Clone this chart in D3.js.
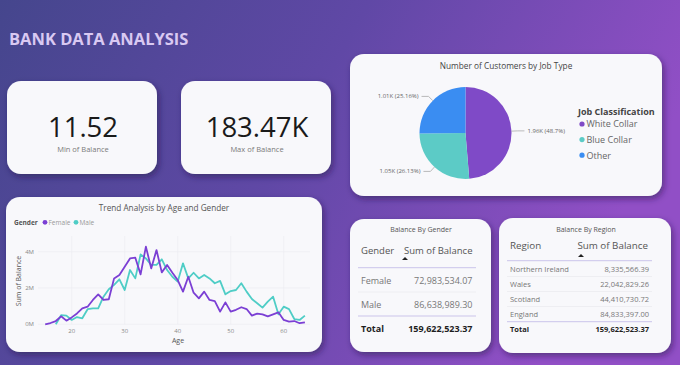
<!DOCTYPE html>
<html><head><meta charset="utf-8">
<script src="https://cdn.jsdelivr.net/npm/d3@7"></script>
<style>
html,body{margin:0;padding:0;overflow:hidden;background:#5a4aa0;}
svg{display:block;}
text{font-family:"Open Sans","Noto Sans",sans-serif;}
</style></head>
<body>
<svg id="c" width="680" height="365"></svg>
<script>
// ---------- DATA ----------
const kpiValues = ["11.52", "183.47K"];
const kpiLabels = ["Min of Balance", "Max of Balance"];

const jobTypes = ["White Collar", "Blue Collar", "Other"];
const jobPct = [48.7, 26.13, 25.16];
const jobCountLabels = ["1.96K", "1.05K", "1.01K"];

const femaleAges = d3.range(15, 65);
const femaleBalanceM = [0, 0.07, 0.18, 0.44, 0.2, 0.38, 0.6, 0.88, 0.97, 1.34, 1.65, 1.34, 1.38, 2.53, 2.72, 3.17, 3.63, 3.67, 2.75, 4.28, 3.08, 4.09, 2.86, 3.27, 2.84, 2.44, 1.8, 2.62, 1.74, 1.43, 1.8, 1.34, 1.28, 0.7, 1.21, 0.7, 0.8, 0.94, 0.84, 0.48, 0.59, 0.55, 0.44, 0.55, 0.66, 0.24, 0.15, 0.18, 0.06, 0.11];
const maleAges = d3.range(17, 65);
const maleBalanceM = [0, 0.5, 0.48, 0.24, 0.4, 0.33, 0.83, 0.88, 0.88, 1.52, 1.93, 2.17, 2.48, 1.89, 2.99, 2.53, 3.85, 3.63, 3.27, 3.27, 3.58, 2.99, 2.62, 2.35, 3.36, 2.53, 2.84, 2.53, 2.72, 2.53, 2.26, 2.39, 1.65, 1.83, 1.89, 2.26, 1.8, 1.39, 1.16, 0.92, 1.25, 1.52, 0.55, 0.97, 0.84, 0.29, 0.24, 0.48];
const xTicks = [20, 30, 40, 50, 60];
const yTicksM = [0, 2, 4];

const genderRows = ["Female", "Male"];
const genderBalance = ["72,983,534.07", "86,638,989.30"];
const genderTotal = "159,622,523.37";

const regionRows = ["Northern Ireland", "Wales", "Scotland", "England"];
const regionBalance = ["8,335,566.39", "22,042,829.26", "44,410,730.72", "84,833,397.00"];
const regionTotal = "159,622,523.37";

// ---------- SETUP ----------
const svg = d3.select("#c");
const defs = svg.append("defs");
const bg = defs.append("linearGradient").attr("id", "bg").attr("x1", "0").attr("y1", "0").attr("x2", "1").attr("y2", "0.3");
bg.append("stop").attr("offset", "0").attr("stop-color", "#45468d");
bg.append("stop").attr("offset", "0.5").attr("stop-color", "#6048a6");
bg.append("stop").attr("offset", "1").attr("stop-color", "#914fc6");
const f = defs.append("filter").attr("id", "sh").attr("x", "-10%").attr("y", "-10%").attr("width", "125%").attr("height", "130%");
f.append("feDropShadow").attr("dx", 2).attr("dy", 3).attr("stdDeviation", 3).attr("flood-color", "#1a1040").attr("flood-opacity", 0.5);

svg.append("rect").attr("width", 680).attr("height", 365).attr("fill", "url(#bg)");

svg.append("text").attr("x", 9).attr("y", 45).attr("font-size", 16.5).attr("font-weight", 700)
  .attr("fill", "#d9c9f2").attr("font-family", "Lato, 'Open Sans', sans-serif").text("BANK DATA ANALYSIS");

function card(x, y, w, h) {
  svg.append("rect").attr("x", x).attr("y", y).attr("width", w).attr("height", h)
    .attr("rx", 14).attr("fill", "#f8f8fb").attr("filter", "url(#sh)");
}

// ---------- KPI CARDS ----------
const kpiX = [7, 181];
kpiX.forEach((x, i) => {
  card(x, 81, 150, 93);
  svg.append("text").attr("x", x + 76).attr("y", 137).attr("text-anchor", "middle")
    .attr("font-family", "Roboto, sans-serif").attr("font-weight", 400).attr("font-size", 27.5)
    .attr("fill", "#1a1a1a").text(kpiValues[i]);
  svg.append("text").attr("x", x + 76).attr("y", 152).attr("text-anchor", "middle")
    .attr("font-size", 7.5).attr("fill", "#7a7a7a").text(kpiLabels[i]);
});

// ---------- PIE ----------
card(350, 54, 312, 142);
svg.append("text").attr("x", 506).attr("y", 69).attr("text-anchor", "middle")
  .attr("font-size", 8.3).attr("fill", "#444").text("Number of Customers by Job Type");
const pieColors = ["#7f4ac7", "#5ccbc6", "#3a8df2"];
const pie = d3.pie().sort(null).value(d => d)(jobPct);
const R = 46, cx = 465.5, cy = 133;
const arc = d3.arc().innerRadius(0).outerRadius(R);
const pg = svg.append("g").attr("transform", `translate(${cx},${cy})`);
pg.selectAll("path").data(pie).join("path").attr("d", arc).attr("fill", (d, i) => pieColors[i]);
pie.forEach((d, i) => {
  const a = (d.startAngle + d.endAngle) / 2;
  const p1 = [Math.sin(a) * R, -Math.cos(a) * R];
  const p2 = [Math.sin(a) * (R + 6), -Math.cos(a) * (R + 6)];
  const right = Math.sin(a) > 0;
  const p3 = [p2[0] + (right ? 7 : -7), p2[1]];
  pg.append("polyline").attr("points", [p1, p2, p3].map(p => p.join(",")).join(" "))
    .attr("fill", "none").attr("stroke", "#aaa").attr("stroke-width", 0.8);
  pg.append("text").attr("x", p3[0] + (right ? 3 : -3)).attr("y", p3[1] + 2)
    .attr("text-anchor", right ? "start" : "end").attr("font-size", 6).attr("fill", "#666")
    .text(`${jobCountLabels[i]} (${jobPct[i]}%)`);
});
svg.append("text").attr("x", 578).attr("y", 114.5).attr("font-size", 9).attr("font-weight", 700)
  .attr("fill", "#444").text("Job Classification");
jobTypes.forEach((t, i) => {
  const yy = 124 + i * 15.6;
  svg.append("circle").attr("cx", 582).attr("cy", yy).attr("r", 2.6).attr("fill", pieColors[i]);
  svg.append("text").attr("x", 586.5).attr("y", yy + 3.3).attr("font-size", 9).attr("fill", "#666").text(t);
});

// ---------- LINE CHART ----------
card(6, 197, 316, 155);
svg.append("text").attr("x", 164).attr("y", 210.5).attr("text-anchor", "middle")
  .attr("font-size", 8.2).attr("fill", "#555").text("Trend Analysis by Age and Gender");
const lineColors = ["#7b3fd4", "#4fcdc6"];
svg.append("text").attr("x", 14).attr("y", 224.5).attr("font-size", 6.5).attr("font-weight", 700).attr("fill", "#555").text("Gender");
[["Female", 45], ["Male", 76]].forEach(([t, x], i) => {
  svg.append("circle").attr("cx", x).attr("cy", 222.3).attr("r", 2.4).attr("fill", lineColors[i]);
  svg.append("text").attr("x", x + 3.5).attr("y", 224.5).attr("font-size", 6.5).attr("fill", "#999").text(t);
});
const x = d3.scaleLinear().domain([15, 64]).range([45.2, 304.9]);
const y = d3.scaleLinear().domain([0, 4]).range([324.3, 251.7]);
const gx = svg.append("g");
gx.selectAll("line").data(xTicks).join("line").attr("x1", d => x(d)).attr("x2", d => x(d))
  .attr("y1", 236).attr("y2", 324.3).attr("stroke", "#ececf2").attr("stroke-width", 0.7);
gx.selectAll("line.h").data(yTicksM).join("line").attr("class", "h").attr("x1", 38).attr("x2", 310)
  .attr("y1", d => y(d)).attr("y2", d => y(d)).attr("stroke", "#ececf2").attr("stroke-width", 0.7);
gx.selectAll("text.xt").data(xTicks).join("text").attr("class", "xt").attr("x", d => x(d)).attr("y", 333)
  .attr("text-anchor", "middle").attr("font-size", 6).attr("fill", "#888").text(d => d);
gx.selectAll("text.yt").data(yTicksM).join("text").attr("class", "yt").attr("x", 34).attr("y", d => y(d) + 2)
  .attr("text-anchor", "end").attr("font-size", 6).attr("fill", "#888").text(d => d + "M");
svg.append("text").attr("x", 178).attr("y", 343).attr("text-anchor", "middle").attr("font-size", 7).attr("fill", "#555").text("Age");
svg.append("text").attr("transform", "translate(21,281) rotate(-90)").attr("text-anchor", "middle")
  .attr("font-size", 7).attr("fill", "#555").text("Sum of Balance");
const line = d3.line().x(d => x(d[0])).y(d => y(d[1]));
svg.append("path").datum(maleAges.map((a, i) => [a, maleBalanceM[i]])).attr("d", line)
  .attr("fill", "none").attr("stroke", lineColors[1]).attr("stroke-width", 1.8).attr("stroke-linejoin", "round");
svg.append("path").datum(femaleAges.map((a, i) => [a, femaleBalanceM[i]])).attr("d", line)
  .attr("fill", "none").attr("stroke", lineColors[0]).attr("stroke-width", 1.8).attr("stroke-linejoin", "round");

// ---------- TABLES ----------
function arrow(xx, yy) {
  svg.append("path").attr("d", `M${xx - 3},${yy + 2}L${xx},${yy - 1}L${xx + 3},${yy + 2}Z`).attr("fill", "#222");
}
card(350, 219, 141, 133);
svg.append("text").attr("x", 421).attr("y", 231.5).attr("text-anchor", "middle").attr("font-size", 7).attr("fill", "#555").text("Balance By Gender");
svg.append("text").attr("x", 361).attr("y", 253.5).attr("font-size", 9.5).attr("fill", "#555").text("Gender");
svg.append("text").attr("x", 472.5).attr("y", 253.5).attr("text-anchor", "end").attr("font-size", 9.5).attr("fill", "#555").text("Sum of Balance");
arrow(405, 258);
svg.append("line").attr("x1", 358).attr("x2", 476).attr("y1", 267.7).attr("y2", 267.7).attr("stroke", "#cbc4ea").attr("stroke-width", 1);
genderRows.forEach((r, i) => {
  const yy = 284 + i * 23.6;
  svg.append("text").attr("x", 361).attr("y", yy).attr("font-size", 9).attr("fill", "#777").text(r);
  svg.append("text").attr("x", 472.5).attr("y", yy).attr("text-anchor", "end").attr("font-size", 9).attr("fill", "#777").text(genderBalance[i]);
  if (i === 0) svg.append("line").attr("x1", 358).attr("x2", 476).attr("y1", 292).attr("y2", 292).attr("stroke", "#eeeef2");
});
svg.append("line").attr("x1", 358).attr("x2", 476).attr("y1", 316).attr("y2", 316).attr("stroke", "#cbc4ea").attr("stroke-width", 1);
svg.append("text").attr("x", 361).attr("y", 331.5).attr("font-size", 9).attr("font-weight", 700).attr("fill", "#1e1e1e").text("Total");
svg.append("text").attr("x", 472.5).attr("y", 331.5).attr("text-anchor", "end").attr("font-size", 9).attr("font-weight", 700).attr("fill", "#1e1e1e").text(genderTotal);

card(499, 218, 172, 135);
svg.append("text").attr("x", 586).attr("y", 231.5).attr("text-anchor", "middle").attr("font-size", 7).attr("fill", "#555").text("Balance By Region");
svg.append("text").attr("x", 510).attr("y", 249).attr("font-size", 9.8).attr("fill", "#555").text("Region");
svg.append("text").attr("x", 648).attr("y", 249).attr("text-anchor", "end").attr("font-size", 9.8).attr("fill", "#555").text("Sum of Balance");
arrow(581, 255);
svg.append("line").attr("x1", 507).attr("x2", 652).attr("y1", 260.7).attr("y2", 260.7).attr("stroke", "#cbc4ea").attr("stroke-width", 1);
regionRows.forEach((r, i) => {
  const yy = 272 + i * 15;
  svg.append("text").attr("x", 510).attr("y", yy).attr("font-size", 7.5).attr("fill", "#777").text(r);
  svg.append("text").attr("x", 649).attr("y", yy).attr("text-anchor", "end").attr("font-size", 7.5).attr("fill", "#777").text(regionBalance[i]);
  if (i < 3) svg.append("line").attr("x1", 507).attr("x2", 652).attr("y1", yy + 4.5).attr("y2", yy + 4.5).attr("stroke", "#eeeef2");
});
svg.append("line").attr("x1", 507).attr("x2", 652).attr("y1", 321.7).attr("y2", 321.7).attr("stroke", "#cbc4ea").attr("stroke-width", 1);
svg.append("text").attr("x", 510).attr("y", 332).attr("font-size", 7.5).attr("font-weight", 700).attr("fill", "#1e1e1e").text("Total");
svg.append("text").attr("x", 649).attr("y", 332).attr("text-anchor", "end").attr("font-size", 7.5).attr("font-weight", 700).attr("fill", "#1e1e1e").text(regionTotal);
</script>
</body></html>
